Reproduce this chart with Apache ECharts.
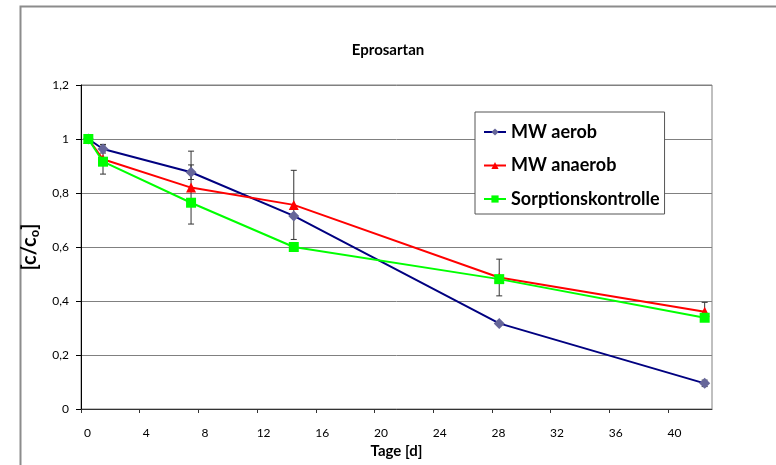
<!DOCTYPE html>
<html>
<head>
<meta charset="utf-8">
<script src="https://cdn.jsdelivr.net/npm/echarts@6/dist/echarts.min.js"></script>
<style>html,body{margin:0;padding:0;background:#fff}#c{width:776px;height:465px}</style>
</head>
<body>
<div id="c"></div>
<script>
// ---- data ----
const days = [0.5, 1.5, 7.5, 14.5, 28.5, 42.5];
const aerob = [1.0, 0.963, 0.877, 0.715, 0.317, 0.095];
const anaerob = [1.0, 0.925, 0.82, 0.756, 0.487, 0.36];
const sorption = [1.0, 0.916, 0.764, 0.6, 0.481, 0.338];
const errAerob = [0, 0.015, 0.027, 0, 0, 0.012];
const errAnaerob = [0, 0.055, 0.135, 0.128, 0.068, 0.035];
const errSorption = [0, 0, 0, 0, 0, 0];
const xTicks = [0, 4, 8, 12, 16, 20, 24, 28, 32, 36, 40];
const seriesNames = ['MW aerob', 'MW anaerob', 'Sorptionskontrolle'];

const FONT = 'Lato';
const pts = (ys) => days.map((d, i) => [d, ys[i]]);
const errData = [];
[[aerob, errAerob], [anaerob, errAnaerob], [sorption, errSorption]].forEach(([ys, es]) => {
  days.forEach((d, i) => { if (es[i] > 0) errData.push([d, ys[i] - es[i], ys[i] + es[i]]); });
});

const chart = echarts.init(document.getElementById('c'), null, {renderer: 'canvas'});
chart.setOption({
  animation: false,
  backgroundColor: '#fff',
  textStyle: {fontFamily: FONT},
  graphic: [{
    type: 'rect', shape: {x: 20.5, y: 6.5, width: 800, height: 500},
    style: {fill: 'none', stroke: '#8c8c8c', lineWidth: 2}, z: -10
  }],
  title: {
    text: 'Eprosartan', left: 'center', top: 38,
    textStyle: {fontFamily: FONT, fontWeight: 'bold', fontSize: 15, color: '#000'}
  },
  legend: {
    orient: 'vertical', left: 475, top: 112,
    padding: [11, 5, 6, 8], itemGap: 15.5,
    backgroundColor: '#fff', borderColor: '#555', borderWidth: 1,
    itemWidth: 22, itemHeight: 9,
    data: seriesNames,
    textStyle: {fontFamily: FONT, fontWeight: 'bold', fontSize: 18, color: '#000'}
  },
  grid: {left: 81, right: 64, top: 85, bottom: 56, show: true, borderColor: '#808080', borderWidth: 1},
  xAxis: {
    type: 'value', min: 0, max: 43,
    name: 'Tage [d]', nameLocation: 'middle', nameGap: 28,
    nameTextStyle: {fontFamily: FONT, fontWeight: 'bold', fontSize: 15, color: '#000', verticalAlign: 'top'},
    axisLine: {lineStyle: {color: '#333', width: 1}},
    axisTick: {show: true, length: 4, inside: false, customValues: xTicks, lineStyle: {color: '#333'}},
    axisLabel: {customValues: xTicks, fontSize: 12, color: '#000', margin: 18, padding: [0, 0, 0, 13], fontFamily: FONT},
    splitLine: {show: false}
  },
  yAxis: {
    type: 'value', min: 0, max: 1.2, interval: 0.2,
    name: '{n|[c/c}{s|o}{n|]}', nameLocation: 'middle', nameGap: 25, nameRotate: 90,
    nameTextStyle: {
      rich: {
        n: {fontFamily: FONT, fontWeight: 'bold', fontSize: 20, color: '#000'},
        s: {fontFamily: FONT, fontWeight: 'bold', fontSize: 13, color: '#000', padding: [11, 0, 0, 0]}
      }
    },
    axisLine: {show: true, lineStyle: {color: '#000', width: 1}},
    axisTick: {show: true, length: 5, lineStyle: {color: '#000'}},
    axisLabel: {
      fontSize: 12, color: '#000', margin: 12, fontFamily: FONT,
      formatter: v => String(Math.round(v * 10) / 10).replace('.', ',')
    },
    splitLine: {show: true, lineStyle: {color: '#808080', width: 1}}
  },
  series: [
    {
      type: 'custom', name: 'err', silent: true, z: 1,
      data: errData, encode: {x: 0, y: [1, 2]},
      renderItem: (params, api) => {
        const x = api.value(0);
        const lo = api.coord([x, api.value(1)]);
        const hi = api.coord([x, api.value(2)]);
        const w = 3;
        const st = {stroke: '#333', lineWidth: 1};
        return {type: 'group', children: [
          {type: 'line', shape: {x1: lo[0], y1: lo[1], x2: hi[0], y2: hi[1]}, style: st},
          {type: 'line', shape: {x1: lo[0] - w, y1: lo[1], x2: lo[0] + w, y2: lo[1]}, style: st},
          {type: 'line', shape: {x1: hi[0] - w, y1: hi[1], x2: hi[0] + w, y2: hi[1]}, style: st}
        ]};
      }
    },
    {
      type: 'line', name: seriesNames[0], data: pts(aerob), z: 3,
      symbol: 'diamond', symbolSize: 11,
      lineStyle: {color: '#000080', width: 2},
      itemStyle: {color: '#666699', borderWidth: 0}
    },
    {
      type: 'line', name: seriesNames[1], data: pts(anaerob), z: 4,
      symbol: 'triangle', symbolSize: 10,
      lineStyle: {color: '#ff0000', width: 2},
      itemStyle: {color: '#ff0000', borderWidth: 0}
    },
    {
      type: 'line', name: seriesNames[2], data: pts(sorption), z: 5,
      symbol: 'rect', symbolSize: 10,
      lineStyle: {color: '#00ff00', width: 2},
      itemStyle: {color: '#00ff00', borderWidth: 0}
    }
  ]
});
</script>
</body>
</html>
